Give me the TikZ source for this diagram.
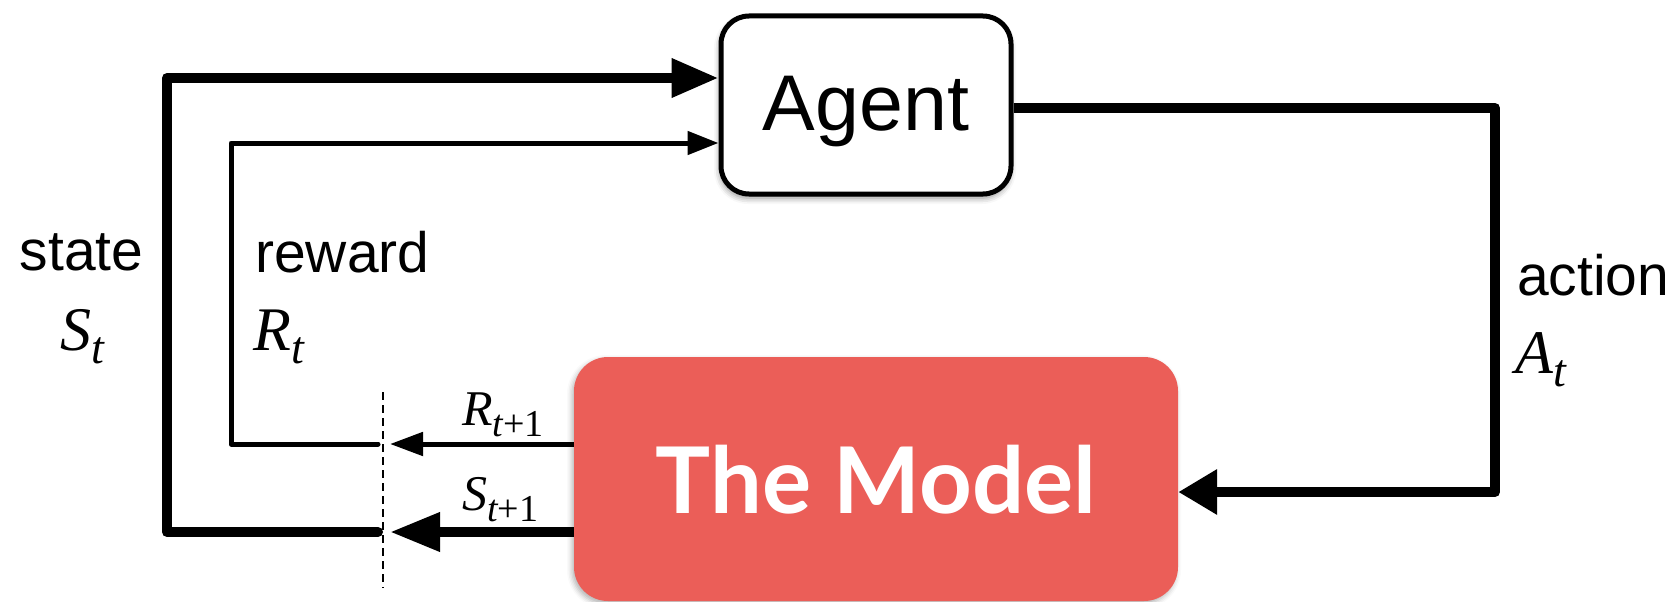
\documentclass[tikz,border=0pt]{standalone}
\usepackage{fontspec}
\setmainfont{Liberation Sans}
\newfontfamily\tms{Liberation Serif}
\newfontfamily\lato{Lato}
\usetikzlibrary{arrows.meta,shadows.blur}
\definecolor{modelred}{RGB}{235,94,88}

% italic symbol with a lowered subscript: #1 size, #2 letter, #3 sub size, #4 subscript
\newcommand\symb[4]{{\fontsize{#1}{#1}\selectfont\tms\itshape #2\raisebox{-0.22em}{\fontsize{#3}{#3}\selectfont #4}}}

\begin{document}
\begin{tikzpicture}[x=1pt,y=-1pt,
  heavy/.style={line width=10pt,line join=round,line cap=round},
  light/.style={line width=5pt,line join=round,line cap=round},
  fromnode/.style={line cap=butt},
  lbl/.style={inner sep=0pt,anchor=base west,font=\fontsize{57pt}{60pt}\selectfont},
  agentbox/.style={draw=black,fill=white,line width=5pt,rounded corners=28pt,
    minimum width=290pt,minimum height=178pt,inner sep=0pt,
    font=\fontsize{79pt}{80pt}\selectfont,text height=57pt,text depth=7pt,
    blur shadow={shadow xshift=-1pt,shadow yshift=-4pt,shadow blur radius=6pt,shadow opacity=45}},
  modelbox/.style={fill=modelred,rounded corners=34pt,
    minimum width=604pt,minimum height=244pt,inner sep=0pt,text=white,
    font=\lato\bfseries\fontsize{92pt}{92pt}\selectfont,text height=68pt,text depth=0pt,
    blur shadow={shadow xshift=-2pt,shadow yshift=-3pt,shadow blur radius=5pt,shadow opacity=30}},
  cut/.style={line width=2pt,dash pattern=on 8pt off 5pt}
]
\useasboundingbox (0,0) rectangle (1678,602);

% boxes
\node[agentbox] (agent) at (866,105) {Agent};
\node[modelbox] (model) at (876,479) {The Model};

% routing points
\coordinate (aTop) at (1495,108);
\coordinate (aBot) at (1495,492);
\coordinate (sStart) at (378,532);
\coordinate (sLow) at (167,532);
\coordinate (sHigh) at (167,78);
\coordinate (rStart) at (378,444);
\coordinate (rLow) at (231,444);
\coordinate (rHigh) at (231,143);
\coordinate (rTip) at (390,444);
\coordinate (sTip) at (390,532);
\coordinate (cutT) at (383,392);
\coordinate (cutB) at (383,588);

% action loop
\draw[heavy,fromnode,-{Triangle[length=39pt,width=43pt]}]
  (agent.east |- aTop) -- (aTop) -- (aBot) -- (aBot -| model.east);

% state loop
\draw[heavy,-{Triangle[length=47pt,width=37pt]}]
  (sStart) -- (sLow) -- (sHigh) -- (sHigh -| agent.west);

% reward loop
\draw[light,-{Triangle[length=31pt,width=23pt]}]
  (rStart) -- (rLow) -- (rHigh) -- (rHigh -| agent.west);

% outputs of the model
\draw[light,fromnode,-{Triangle[length=33pt,width=23pt]}] (model.west |- rTip) -- (rTip);
\draw[heavy,fromnode,-{Triangle[length=50pt,width=37pt]}] (model.west |- sTip) -- (sTip);

% time step boundary
\draw[cut] (cutT) -- (cutB);

% labels
\node[lbl,anchor=base] (stateword) at (81.5,270) {state};
\node[lbl] (Slbl) at (60,350) {\symb{62pt}{S}{46pt}{t}};
\node[lbl] (rewardword) at (255,272) {reward};
\node[lbl] (Rlbl) at (253,350) {\symb{62pt}{R}{46pt}{t}};
\node[lbl] (actionword) at (1517,295) {action};
\node[lbl] (Albl) at (1515,373) {\symb{62pt}{A}{46pt}{t}};
\node[lbl] (Rnext) at (462,425) {\symb{50pt}{R}{38pt}{t\upshape+1}};
\node[lbl] (Snext) at (462,510) {\symb{50pt}{S}{38pt}{t\upshape+1}};
\end{tikzpicture}
\end{document}
